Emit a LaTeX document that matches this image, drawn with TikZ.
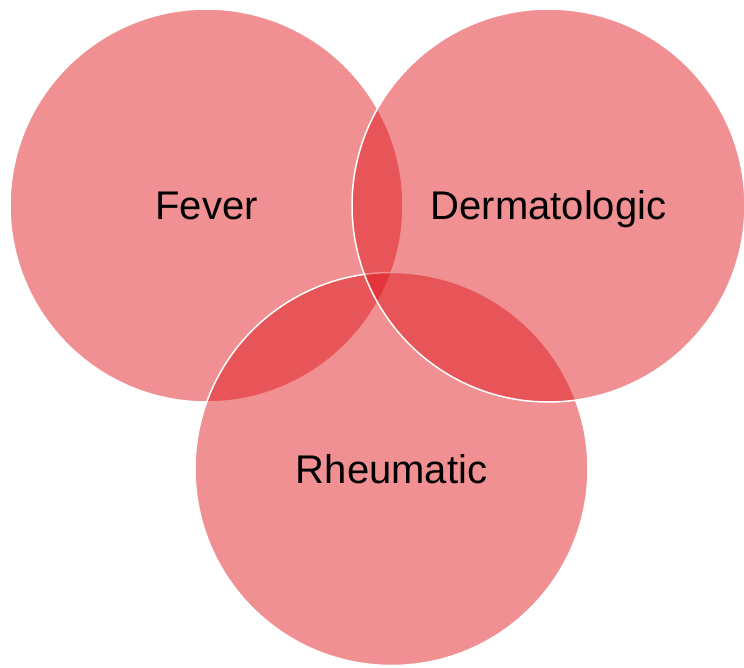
\documentclass[tikz,border=0pt]{standalone}
\usepackage{fontspec}
\setmainfont{Liberation Sans}
\usepackage{tikz}
\usetikzlibrary{shapes.geometric}
\definecolor{setfill}{RGB}{223,19,23}

\begin{document}
\begin{tikzpicture}[
  x=1pt, y=-1pt,
  setcircle/.style={circle, fill=setfill, fill opacity=0.47, text opacity=1,
                    draw=white, line width=1.5pt, inner sep=0pt,
                    minimum size=393pt, text height=28pt, text depth=0pt,
                    font=\fontsize{40}{48}\selectfont},
]
\useasboundingbox (0,0) rectangle (744,667);

% =================================================================
%  THREE SETS
% =================================================================
\node[setcircle] (fever) at (206.5, 205.5) {Fever};

\node[setcircle] (rheum) at (391.5, 469) {Rheumatic};

\node[setcircle] (derm) at (548.5, 205.5) {Dermatologic};

\end{tikzpicture}
\end{document}
